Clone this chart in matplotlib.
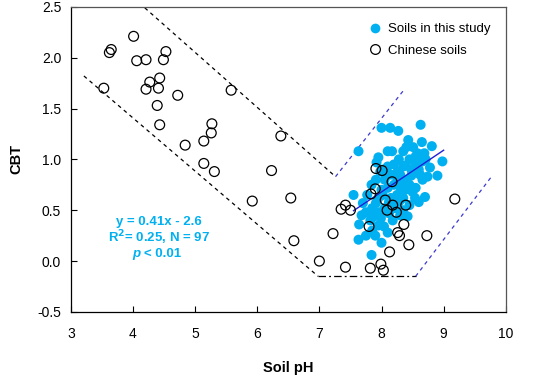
import matplotlib
matplotlib.use("Agg")
import matplotlib.pyplot as plt
from matplotlib.lines import Line2D

plt.rcParams['font.family'] = ['Liberation Sans', 'DejaVu Sans']

# Chinese soils (open circles)
cn_ph = [4.01, 3.65, 3.62, 4.06, 4.21, 4.53, 4.49, 4.27, 4.43, 4.21, 4.41, 3.53,
         4.72, 4.39, 5.58, 4.43, 5.27, 5.26, 5.14, 4.84, 6.38, 5.14, 5.31, 6.23,
         5.92, 6.54, 6.59, 7.00, 7.42, 7.22, 7.82, 7.99, 8.03, 8.13, 8.44, 8.26,
         8.29, 8.36, 8.73, 7.80, 9.18, 7.35, 7.42, 7.50, 7.83, 7.90, 8.06, 8.18,
         8.09, 8.24, 8.39, 8.17, 7.91, 8.01]
cn_cbt = [2.21, 2.08, 2.05, 1.97, 1.98, 2.06, 1.98, 1.76, 1.80, 1.69, 1.70, 1.70,
          1.63, 1.53, 1.68, 1.34, 1.35, 1.26, 1.18, 1.14, 1.23, 0.96, 0.88, 0.89,
          0.59, 0.62, 0.20, 0.00, -0.06, 0.27, -0.07, -0.03, -0.09, 0.09, 0.16, 0.28,
          0.25, 0.36, 0.25, 0.34, 0.61, 0.51, 0.55, 0.50, 0.66, 0.71, 0.60, 0.55,
          0.50, 0.48, 0.55, 0.78, 0.91, 0.89]

# Soils in this study (filled cyan)
st_ph = [8.63, 8.00, 8.14, 8.27, 8.43, 8.65, 8.81, 8.51, 8.35, 8.10, 8.17, 7.63,
         8.69, 8.55, 8.45, 7.95, 8.98, 8.66, 8.35, 8.26, 8.52, 8.90, 8.74, 8.66,
         7.91, 8.07, 8.45, 7.84, 7.55, 7.77, 8.02, 8.31, 8.70, 8.54, 7.91, 8.29,
         7.88, 7.99, 8.12, 7.64, 8.04, 7.63, 7.84, 8.58, 8.39, 8.55, 8.71, 8.60,
         8.48, 8.40, 8.20, 8.10, 8.00, 7.95, 8.15, 8.35, 8.45, 8.22, 8.05, 7.85,
         7.75, 8.30, 8.18, 7.95, 7.85, 8.10, 7.75, 8.55, 8.62, 8.28, 8.20, 8.10,
         7.98, 8.40, 8.50, 8.25, 8.35, 7.70, 8.60, 8.42, 7.92, 8.78, 8.15, 8.05,
         8.33, 7.90, 8.00, 8.12, 8.25, 7.82, 7.68, 8.38, 8.48, 8.02, 8.20, 8.30,
         7.96]
st_cbt = [1.34, 1.31, 1.31, 1.28, 1.19, 1.17, 1.13, 1.12, 1.08, 1.08, 1.08, 1.08,
          1.06, 1.03, 1.00, 1.02, 0.98, 0.98, 0.93, 0.88, 0.88, 0.84, 0.83, 0.80,
          0.80, 0.85, 0.75, 0.75, 0.65, 0.65, 0.65, 0.69, 0.63, 0.62, 0.57, 0.59,
          0.44, 0.42, 0.47, 0.36, 0.34, 0.21, 0.06, 1.06, 0.94, 0.94, 1.00, 0.90,
          0.84, 0.80, 0.75, 0.72, 0.70, 0.62, 0.62, 0.62, 0.55, 0.52, 0.52, 0.52,
          0.48, 0.45, 0.40, 0.35, 0.30, 0.28, 0.25, 0.72, 0.85, 1.00, 0.95, 0.93,
          0.88, 1.12, 0.68, 0.82, 0.50, 0.57, 0.58, 0.44, 0.97, 0.92, 0.85, 0.80,
          0.75, 0.25, 0.18, 0.58, 0.65, 0.40, 0.45, 0.70, 0.90, 0.90, 0.60, 0.85,
          0.48]

# boundary lines
upper_x = [4.19, 7.26]
upper_y = [2.49, 0.83]
upper_blue_x = [7.26, 8.37]
upper_blue_y = [0.83, 1.69]
lower_x = [3.21, 6.98]
lower_y = [1.82, -0.15]
floor_x = [6.98, 8.55]
floor_y = [-0.15, -0.15]
lower_blue_x = [8.55, 9.77]
lower_blue_y = [-0.15, 0.83]

# regression y = 0.41x - 2.6
fit_x = [7.55, 9.0]
fit_y = [0.41 * v - 2.6 for v in fit_x]

cyan = '#00B0F0'
dash_blue = '#3a3ad0'

fig = plt.figure(figsize=(5.45, 3.79), dpi=100)
ax = fig.add_axes([0.130, 0.177, 0.798, 0.805])

ax.plot(upper_x, upper_y, color='black', ls=(0, (3, 3)), lw=0.9)
ax.plot(lower_x, lower_y, color='black', ls=(0, (3, 3)), lw=0.9)
ax.plot(floor_x, floor_y, color='black', ls=(0, (6, 2.5, 1.5, 2.5)), lw=0.9)
ax.plot(upper_blue_x, upper_blue_y, color=dash_blue, ls=(0, (3, 3)), lw=0.9)
ax.plot(lower_blue_x, lower_blue_y, color=dash_blue, ls=(0, (3, 3)), lw=0.9)

ax.scatter(st_ph, st_cbt, s=52, color=cyan, edgecolors='none', zorder=3)
ax.plot(fit_x, fit_y, color='#2020d8', lw=1.0, zorder=4)
ax.scatter(cn_ph, cn_cbt, s=50, facecolors='none', edgecolors='black',
           linewidths=0.9, zorder=5)

ax.set_xlim(3, 10)
ax.set_ylim(-0.5, 2.5)
ax.set_xticks(range(3, 11))
ax.set_yticks([-0.5, 0.0, 0.5, 1.0, 1.5, 2.0, 2.5])
ax.set_yticklabels(['-0.5', '0.0', '0.5', '1.0', '1.5', '2.0', '2.5'])
ax.tick_params(direction='in', length=4, labelsize=10, pad=7)
ax.tick_params(axis='x', pad=11)
for sp in ax.spines.values():
    sp.set_linewidth(0.9)
ax.spines['top'].set_color('#555555')
ax.spines['right'].set_color('#555555')

ax.set_xlabel('Soil pH', fontsize=10.5, fontweight='bold', labelpad=14)
ax.set_ylabel('CBT', fontsize=10.5, fontweight='bold', labelpad=10)

ax.text(4.42, 0.38, 'y = 0.41x - 2.6', color=cyan, fontsize=9.5,
        fontweight='bold', ha='center', va='center')
ax.text(4.42, 0.23, 'R$^\\mathbf{2}$= 0.25, N = 97', color=cyan, fontsize=9.5,
        fontweight='bold', ha='center', va='center')
ax.text(4.12, 0.07, 'p', color=cyan, fontsize=9.5, fontweight='bold',
        fontstyle='italic', ha='right', va='center')
ax.text(4.18, 0.07, '< 0.01', color=cyan, fontsize=9.5, fontweight='bold',
        ha='left', va='center')

handles = [
    Line2D([], [], marker='o', ls='none', markersize=7, markerfacecolor=cyan,
           markeredgecolor='none', label='Soils in this study'),
    Line2D([], [], marker='o', ls='none', markersize=7, markerfacecolor='none',
           markeredgecolor='black', markeredgewidth=0.9, label='Chinese soils'),
]
ax.legend(handles=handles, loc='upper right', frameon=False, fontsize=9.5,
          handletextpad=0.0, borderaxespad=0.6, labelspacing=0.7,
          bbox_to_anchor=(0.995, 0.99))

fig.savefig('out.png', dpi=100)
